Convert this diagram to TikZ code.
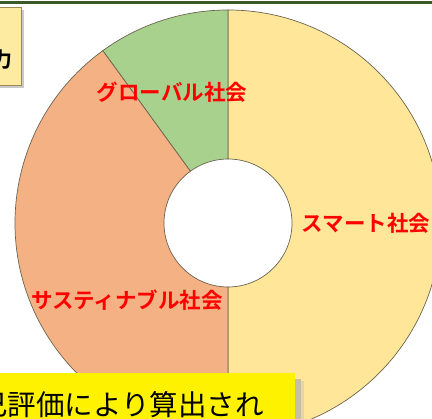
\documentclass[tikz,border=0pt]{standalone}
\usepackage{fontspec}
\newfontfamily\jpfont{Noto Sans CJK JP}
\newfontfamily\jpbold{Noto Sans CJK JP Bold}
\usetikzlibrary{calc}
\definecolor{smartc}{HTML}{FFE699}
\definecolor{sustc}{HTML}{F4B183}
\definecolor{globc}{HTML}{A9D18E}
\definecolor{edgec}{HTML}{6B6550}
\definecolor{topline}{HTML}{3A5A2A}
\definecolor{boxfill}{HTML}{FCEBA0}
\definecolor{boxedge}{HTML}{9A8A50}
\tikzset{
  sector/.style={draw=edgec, line width=0.7pt},
  seglabel/.style={text=red, font=\jpbold\fontsize{21.5}{25}\selectfont, inner sep=0pt},
}
\begin{document}
\begin{tikzpicture}[x=1pt,y=1pt]
\useasboundingbox (0,0) rectangle (432,419);
\clip (0,0) rectangle (432,419);
\fill[white] (0,0) rectangle (432,419);
\coordinate (c) at (228,196);
% donut sectors
\filldraw[sector, fill=smartc] ($(c)+(-90:213)$) arc[start angle=-90, end angle=90, radius=213]
  -- ($(c)+(90:64)$) arc[start angle=90, end angle=-90, radius=64] -- cycle;
\filldraw[sector, fill=globc] ($(c)+(90:213)$) arc[start angle=90, end angle=126, radius=213]
  -- ($(c)+(126:64)$) arc[start angle=126, end angle=90, radius=64] -- cycle;
\filldraw[sector, fill=sustc] ($(c)+(126:213)$) arc[start angle=126, end angle=270, radius=213]
  -- ($(c)+(270:64)$) arc[start angle=270, end angle=126, radius=64] -- cycle;
% labels
\node[seglabel] (glob) at (172,327) {グローバル社会};
\node[seglabel] (smart) at (366,196) {スマート社会};
\node[seglabel] (sust) at (127,119) {サスティナブル社会};
% top line
\fill[topline] (0,415) rectangle (432,418);
% top-left box
\fill[black!35, opacity=0.6] (-10,331) rectangle (24,409);
\filldraw[fill=boxfill, draw=boxedge, line width=0.8pt] (-10,334) rectangle (21,412);
\node[anchor=east, inner sep=0pt, font=\jpbold\fontsize{21}{24}\selectfont] (tl) at (13,359) {力};
% bottom box
\fill[black!40, opacity=0.5] (-10,-10) rectangle (301,40);
\fill[black!25, opacity=0.4] (-10,-10) rectangle (304,38);
\fill[yellow] (-10,-10) rectangle (295,46);
\node[anchor=base west, inner sep=0pt, font=\jpfont\fontsize{28.5}{32}\selectfont] (note) at (-21,3) {己評価により算出され};
\end{tikzpicture}
\end{document}
